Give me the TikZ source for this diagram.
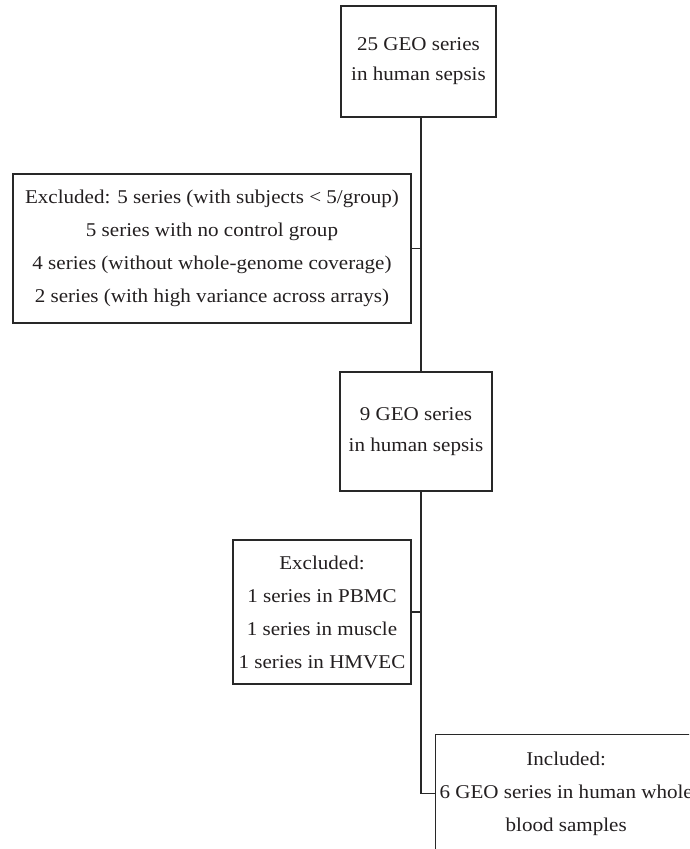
\documentclass[tikz,border=0pt]{standalone}
\usepackage{fontspec}
\setmainfont{Liberation Serif}[FakeStretch=1.08]
\usetikzlibrary{positioning}
\definecolor{boxline}{RGB}{40, 40, 40}
\definecolor{boxtext}{RGB}{35, 31, 32}
\tikzset{
  stagebox/.style={draw=boxline, line width=1.1pt, align=center, text=boxtext, inner sep=4pt, font=\fontsize{19.5}{33}\selectfont},
  link/.style={draw=boxline, line width=1.1pt}
}

\begin{document}
\begin{tikzpicture}[x=1pt, y=-1pt]
  \clip (0, 0) rectangle (689, 849);

  % Trunk of the flow chart
  \coordinate (trunk) at (421, 0);

  % Start: all series
  \node[stagebox, minimum width=155pt, minimum height=111pt, font=\fontsize{19.5}{30}\selectfont] (geoall) at (418.5, 61.5) {25 GEO series\\in human sepsis};

  % First exclusion
  \node[stagebox, minimum width=398pt, minimum height=149pt] (exclone) at (212, 248.5) {
    Excluded: 5 series (with subjects < 5/group)\\
    5 series with no control group\\
    4 series (without whole-genome coverage)\\
    2 series (with high variance across arrays)
  };

  % Remaining series
  \node[stagebox, minimum width=152pt, minimum height=119pt, font=\fontsize{19.5}{31}\selectfont] (geonine) at (416, 431.5) {9 GEO series\\in human sepsis};

  % Second exclusion
  \node[stagebox, minimum width=178pt, minimum height=144pt] (excltwo) at (322, 612) {
    Excluded:\\
    1 series in PBMC\\
    1 series in muscle\\
    1 series in HMVEC
  };

  % Included series (runs past the page)
  \node[stagebox, anchor=north west, minimum width=258pt, minimum height=118pt] (incl) at (435, 734) {
    Included:\\
    6 GEO series in human whole\\
    blood samples
  };

  % Connectors
  \draw[link] (geoall.south -| trunk) -- (geonine.north -| trunk);
  \draw[link] (exclone.east) -- (exclone.east -| trunk);
  \draw[link] (geonine.south -| trunk) |- (incl.west);
  \draw[link] (excltwo.east) -- (excltwo.east -| trunk);
\end{tikzpicture}
\end{document}
